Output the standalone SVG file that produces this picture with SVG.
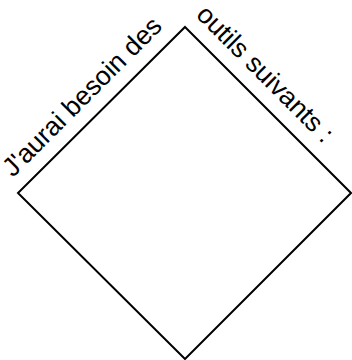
<svg xmlns="http://www.w3.org/2000/svg" width="352" height="360" viewBox="0 0 352 360">
<style>
.lbl{font-family:"Liberation Sans",Arial,sans-serif;font-size:26.5px;fill:#000}
.shape{fill:none;stroke:#000;stroke-width:2}
</style>
<rect width="352" height="360" fill="#fff"/>
<g id="diamond">
<polygon class="shape" points="185,27 351,193 185,359 18,193"/>
</g>
<g id="label-left">
<text class="lbl" x="13" y="178" transform="rotate(-45 13 178)">J'aurai besoin des</text>
</g>
<g id="label-right">
<text class="lbl" x="195" y="16" transform="rotate(45 195 16)">outils suivants :</text>
</g>
<g id="connectors"></g>
</svg>
